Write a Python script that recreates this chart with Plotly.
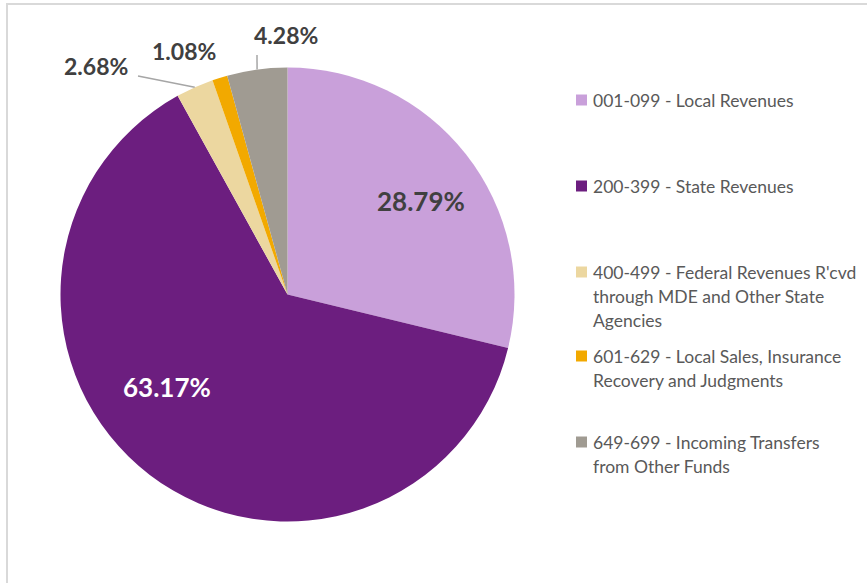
import math
import plotly.graph_objects as go

labels = [
    "001-099 - Local Revenues",
    "200-399 - State Revenues",
    "400-499 - Federal Revenues R'cvd<br>through MDE and Other State<br>Agencies",
    "601-629 - Local Sales, Insurance<br>Recovery and Judgments",
    "649-699 - Incoming Transfers<br>from Other Funds",
]
shares = [28.79, 63.17, 2.68, 1.08, 4.28]
colors = ["#C9A0DA", "#6C1E7F", "#ECD7A0", "#F2A900", "#A09B92"]

W, H = 867, 583
cx, cy, R = 287.5, 294.5, 227  # pie centre / radius in px

# label placement (px) and colours
label_pos = [(421, 201), (167, 387), (96, 66), (184, 51), (286, 35)]
label_size = [26, 26, 23, 23, 23]
label_color = ["#404040", "#FFFFFF", "#404040", "#404040", "#404040"]
leader_start = {2: (138, 76), 4: (257, 55)}

legend_y = [100, 186, 272, 356, 442]


def px(x, y):
    return x / W, 1 - y / H


fig = go.Figure(go.Pie(
    labels=[l.replace("<br>", " ") for l in labels],
    values=shares,
    marker=dict(colors=colors, line=dict(width=0)),
    sort=False,
    direction="clockwise",
    rotation=0,
    textinfo="none",
    showlegend=False,
    domain=dict(x=[(cx - R) / W, (cx + R) / W], y=[1 - (cy + R) / H, 1 - (cy - R) / H]),
))

annotations = []
shapes = []

# percentage labels
for i, v in enumerate(shares):
    x, y = px(*label_pos[i])
    annotations.append(dict(
        x=x, y=y, xref="paper", yref="paper", text=f"<b>{v:.2f}%</b>", showarrow=False,
        font=dict(family="Lato", size=label_size[i], color=label_color[i]),
        xanchor="center", yanchor="middle",
    ))

# leader lines to the slice edge
cum = 0
for i, v in enumerate(shares):
    mid = math.radians((cum + v / 2) / 100 * 360)
    cum += v
    if i in leader_start:
        ex, ey = cx + R * math.sin(mid), cy - R * math.cos(mid)
        x0, y0 = px(*leader_start[i])
        x1, y1 = px(ex, ey)
        shapes.append(dict(type="line", xref="paper", yref="paper", x0=x0, y0=y0, x1=x1, y1=y1,
                           line=dict(color="#A6A6A6", width=1.5)))

# manual legend
for i, lab in enumerate(labels):
    yc = legend_y[i]
    x0, y0 = px(576, yc - 5.5)
    x1, y1 = px(587, yc + 5.5)
    shapes.append(dict(type="rect", xref="paper", yref="paper", x0=x0, y0=y0, x1=x1, y1=y1,
                       fillcolor=colors[i], line=dict(width=0)))
    for j, line in enumerate(lab.split("<br>")):
        tx, ty = px(591, yc + 24 * j)
        annotations.append(dict(
            x=tx, y=ty, xref="paper", yref="paper", text=line, showarrow=False,
            font=dict(family="Lato", size=17.5, color="#595959"),
            xanchor="left", yanchor="middle",
        ))

# chart border
bx0, by1 = px(7, 4)
shapes.append(dict(type="rect", xref="paper", yref="paper", x0=bx0, y0=-0.05, x1=1.05, y1=by1,
                   line=dict(color="#D9D9D9", width=2), fillcolor="rgba(0,0,0,0)"))

fig.update_layout(
    width=W, height=H,
    margin=dict(l=0, r=0, t=0, b=0),
    paper_bgcolor="white",
    plot_bgcolor="white",
    annotations=annotations,
    shapes=shapes,
)

fig.write_html("out.html", config={"displayModeBar": False},
               post_script="document.body.style.margin='0';")
